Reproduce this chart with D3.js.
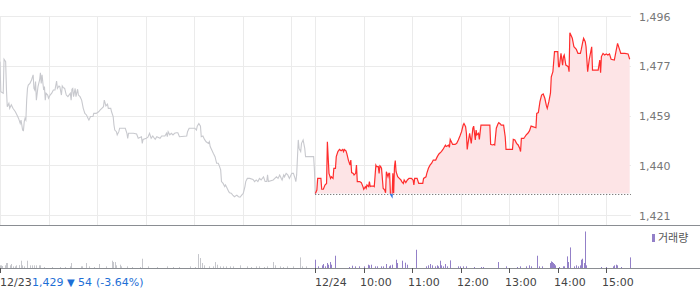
<!DOCTYPE html>
<html>
<head>
<meta charset="utf-8">
<script src="https://cdn.jsdelivr.net/npm/d3@7"></script>
<style>
body { margin:0; background:#fff; }
svg text { font-family:'DejaVu Sans', sans-serif; font-size:11px; }
</style>
</head>
<body>
<svg id="chart" width="700" height="289"></svg>
<script>

// minutes after 09:00, price  (12/23 session)
var day1 = [[0,1478.8],[1,1467.5],[4,1466.9],[5,1479.7],[7,1478.8],[8,1468.1],[9,1461.8],[11,1463.1],[12,1461.2],[14,1462.5],
	[16,1461.2],[19,1459.9],[21,1458.7],[23,1457.4],[25,1455.5],[26,1456.8],[28,1453.0],[29,1452.8],[30,1456.2],[31,1457.4],
	[32,1456.8],[33,1464.3],[34,1468.7],[35,1470.0],[37,1470.6],[39,1471.9],[41,1473.8],[42,1468.7],[43,1468.1],[44,1471.3],
	[45,1464.3],[47,1469.4],[49,1471.9],[50,1474.6],[51,1470.6],[52,1473.8],[54,1468.1],[55,1469.4],[56,1464.3],[57,1466.9],
	[59,1466.2],[60,1465.0],[62,1466.2],[64,1466.9],[66,1468.1],[68,1468.1],[70,1471.5],[71,1468.7],[73,1469.6],[74,1469.4],
	[76,1466.2],[77,1469.6],[78,1469.1],[80,1468.7],[82,1466.2],[84,1465.6],[87,1466.9],[88,1464.3],[89,1468.4],[90,1468.7],
	[91,1465.6],[93,1468.7],[94,1465.6],[96,1468.4],[97,1466.2],[99,1465.6],[101,1464.3],[103,1461.2],[105,1459.3],[107,1458.7],
	[109,1457.4],[110,1456.8],[112,1458.1],[115,1458.1],[116,1459.3],[119,1459.3],[122,1459.9],[124,1460.6],[126,1461.2],[128,1461.8],
	[129,1464.3],[131,1462.1],[133,1462.8],[134,1461.2],[137,1461.2],[138,1459.9],[140,1458.1],[141,1454.9],[142,1453.0],[144,1452.4],
	[145,1451.2],[147,1452.4],[148,1453.7],[152,1453.7],[155,1453.7],[157,1451.8],[158,1449.9],[159,1451.8],[165,1451.8],[169,1451.5],
	[171,1449.9],[175,1450.5],[176,1448.0],[177,1449.5],[181,1449.9],[183,1450.3],[185,1451.8],[187,1449.9],[189,1450.8],[190,1450.3],
	[192,1449.5],[194,1450.5],[198,1449.9],[200,1450.8],[204,1450.8],[206,1451.8],[207,1450.5],[208,1452.4],[210,1451.2],[212,1451.8],
	[214,1451.2],[216,1451.8],[218,1452.0],[220,1452.0],[222,1450.5],[231,1450.8],[232,1452.4],[234,1453.7],[241,1453.7],[243,1453.0],
	[244,1454.5],[246,1455.5],[248,1454.5],[249,1450.5],[251,1450.8],[253,1449.5],[255,1448.6],[258,1448.0],[259,1448.6],[260,1446.8],
	[262,1445.5],[264,1444.2],[266,1443.0],[268,1440.5],[270,1440.5],[271,1439.8],[273,1438.0],[274,1433.6],[276,1432.9],[278,1431.7],
	[279,1432.3],[281,1431.1],[283,1429.8],[284,1429.4],[286,1429.2],[288,1428.5],[290,1427.9],[293,1428.5],[295,1427.9],[297,1427.7],
	[299,1428.5],[301,1429.2],[303,1431.7],[304,1433.6],[306,1434.8],[309,1434.8],[313,1434.4],[315,1433.6],[317,1434.2],[319,1433.6],
	[321,1434.8],[323,1434.2],[326,1435.4],[328,1433.6],[330,1433.6],[331,1436.1],[332,1433.6],[338,1434.2],[340,1434.8],[342,1435.4],
	[344,1434.8],[346,1436.1],[348,1434.8],[349,1434.2],[351,1436.1],[352,1435.4],[354,1436.7],[356,1436.1],[358,1434.8],[361,1436.7],
	[363,1436.7],[365,1434.8],[366,1433.6],[367,1436.1],[369,1449.3],[370,1446.1],[372,1444.9],[373,1448.0],[375,1449.3],[377,1446.1],
	[378,1443.0],[381,1443.0],[388,1443.0],[389,1438.0],[390,1429.2]];

// minutes after 09:00, price  (12/24 session)
var day2 = [[0,1429.0],[2,1430.4],[3,1434.8],[7,1434.8],[8,1430.7],[10,1430.7],[12,1432.3],[14,1432.9],[15,1448.6],[17,1436.7],
	[19,1434.8],[20,1435.4],[22,1434.8],[23,1438.6],[25,1438.6],[26,1443.0],[28,1444.9],[30,1445.7],[32,1445.2],[34,1445.7],
	[35,1444.9],[36,1445.7],[38,1445.2],[39,1444.2],[41,1441.7],[43,1439.8],[44,1441.7],[45,1437.0],[47,1436.7],[48,1436.1],
	[50,1436.7],[51,1439.8],[52,1433.6],[55,1433.6],[57,1433.2],[59,1431.7],[60,1430.7],[62,1431.7],[63,1431.1],[64,1432.3],
	[66,1431.7],[67,1433.6],[68,1431.7],[69,1431.9],[72,1431.9],[73,1431.7],[75,1439.8],[76,1439.2],[78,1439.2],[79,1436.7],
	[80,1439.5],[81,1439.2],[82,1438.6],[84,1431.1],[86,1430.4],[87,1429.4],[88,1437.3],[90,1435.4],[91,1436.7],[92,1436.7],
	[93,1428.9],[95,1427.9],[96,1436.7],[97,1429.2],[98,1439.2],[99,1441.5],[100,1437.3],[102,1435.4],[104,1434.8],[106,1434.2],
	[107,1433.6],[109,1432.9],[110,1434.2],[112,1433.2],[114,1434.2],[116,1434.8],[119,1434.8],[121,1434.2],[122,1432.3],[123,1434.8],
	[126,1434.8],[128,1432.9],[133,1432.9],[134,1434.8],[137,1435.4],[138,1436.7],[140,1438.6],[142,1439.8],[144,1440.5],[146,1441.7],
	[149,1441.7],[151,1443.0],[153,1444.0],[156,1444.9],[158,1445.7],[161,1447.3],[162,1446.8],[165,1447.3],[166,1446.5],[167,1449.5],
	[170,1447.6],[173,1447.6],[175,1448.0],[177,1449.3],[179,1450.8],[181,1452.4],[183,1454.9],[184,1455.5],[186,1454.3],[187,1451.8],
	[188,1445.7],[189,1448.0],[191,1451.8],[193,1448.0],[194,1450.8],[195,1453.7],[196,1454.5],[198,1449.3],[199,1453.0],[200,1451.2],
	[202,1451.8],[203,1449.5],[205,1454.9],[216,1454.9],[217,1447.6],[219,1447.4],[221,1447.6],[222,1447.4],[224,1453.7],[226,1455.3],
	[227,1455.8],[229,1455.3],[230,1454.9],[233,1454.9],[235,1450.5],[236,1445.7],[244,1445.7],[245,1449.5],[247,1449.3],[249,1448.0],
	[251,1447.4],[253,1446.1],[254,1444.9],[255,1449.9],[258,1449.9],[259,1450.3],[261,1451.2],[263,1451.8],[265,1452.7],[267,1454.5],
	[269,1454.3],[273,1453.9],[274,1459.3],[276,1459.6],[278,1463.7],[280,1466.2],[282,1466.6],[284,1465.0],[286,1462.1],[287,1461.2],
	[289,1463.7],[291,1466.9],[292,1473.1],[294,1475.0],[296,1482.6],[300,1482.6],[301,1476.9],[302,1476.9],[304,1481.9],[306,1477.5],
	[307,1480.7],[308,1481.3],[310,1477.5],[313,1476.9],[314,1475.0],[315,1489.7],[318,1487.6],[320,1484.4],[323,1483.4],[325,1481.9],
	[328,1481.9],[329,1483.2],[331,1486.3],[332,1487.6],[334,1486.3],[335,1484.4],[337,1475.0],[339,1479.7],[342,1484.4],[343,1475.6],
	[350,1475.6],[352,1479.4],[353,1474.6],[354,1480.7],[356,1481.9],[358,1481.3],[360,1481.7],[362,1481.3],[364,1481.7],[366,1479.7],
	[370,1479.4],[372,1482.6],[374,1485.7],[376,1483.8],[378,1481.9],[383,1481.9],[387,1481.7],[389,1479.7]];

// volume (minute, amount)
var vol1 = [[0,8],[1,8],[2,6],[6,8],[8,15],[9,15],[12,8],[14,12],[16,5],[19,5],[20,8],[23,8],[24,8],[26,22],[27,8],[30,5],
	[33,22],[37,8],[39,8],[42,8],[44,8],[48,8],[49,8],[54,3],[64,3],[74,3],[80,3],[87,5],[88,15],[100,5],[102,5],[106,15],
	[110,5],[116,3],[122,12],[131,5],[138,22],[140,18],[142,18],[144,8],[148,10],[150,5],[157,5],[163,3],[173,3],[176,28],
	[183,5],[194,3],[206,5],[214,3],[222,3],[235,5],[241,3],[245,42],[247,20],[248,30],[250,15],[252,8],[258,5],[264,5],
	[266,18],[268,10],[272,5],[276,5],[280,5],[284,5],[288,5],[297,8],[305,5],[311,3],[317,5],[321,5],[326,3],[330,5],
	[338,18],[340,8],[346,5],[350,3],[355,5],[362,5],[371,32],[373,5],[379,5]];
var vol2 = [[0,25],[3,5],[8,8],[10,12],[12,5],[14,15],[16,10],[18,18],[20,10],[24,37],[42,3],[45,7],[49,5],[54,5],[60,5],
	[65,10],[67,8],[69,10],[74,5],[76,5],[81,5],[84,5],[87,12],[91,5],[93,8],[95,10],[100,25],[101,15],[107,22],[111,16],
	[113,10],[125,55],[137,5],[139,8],[142,12],[145,8],[148,5],[151,8],[152,5],[154,22],[156,8],[158,5],[161,12],[163,5],
	[167,23],[177,5],[179,5],[183,5],[187,5],[197,3],[205,3],[207,3],[226,18],[236,5],[249,3],[253,5],[261,5],[265,8],
	[267,5],[274,37],[277,5],[280,5],[290,8],[291,15],[292,20],[293,18],[294,15],[295,12],[296,8],[301,3],[306,5],[308,5],
	[311,5],[312,35],[313,18],[315,62],[320,5],[322,8],[325,5],[327,8],[329,25],[330,28],[332,15],[334,110],[335,8],[354,3],
	[360,3],[368,5],[370,8],[372,10],[373,8],[378,3],[389,32]];

var prevClose = 1429;
var yTicks = [1421, 1439.75, 1458.5, 1477.25, 1496];
var timeTicks = [0, 390, 450, 510, 570, 630, 690, 750];
var timeLabels = ['12/23', '12/24', '10:00', '11:00', '12:00', '13:00', '14:00', '15:00'];
var closeInfo = { price: '1,429', change: '54', pct: '(-3.64%)' };
var volLabel = '거래량';

//--------------------------------------------------

var svg = d3.select('#chart');
var sessionLen = 390;

var x = d3.scaleLinear().domain([0, sessionLen*2]).range([0, 630.5]);
var y = d3.scaleLinear().domain([1421, 1496]).range([215, 16]);
var yVol = d3.scaleLinear().domain([0, 110]).range([268, 231.5]);
var px = function(v){ return Math.round(v) + 0.5; };
var yBase = y(prevClose);

// grid
var grid = svg.append('g');
grid.selectAll('.hg')
	.data(yTicks)
	.enter()
	.append('line')
	.attr('x1', 0).attr('x2', 631)
	.attr('y1', function(d){ return px(y(d)) })
	.attr('y2', function(d){ return px(y(d)) })
	.attr('stroke', '#ebebeb');
var vgrid = d3.range(0, 390, 60).concat(d3.range(390, 780, 60));
grid.selectAll('.vg')
	.data(vgrid)
	.enter()
	.append('line')
	.attr('x1', function(d){ return px(x(d)) })
	.attr('x2', function(d){ return px(x(d)) })
	.attr('y1', 16).attr('y2', 225)
	.attr('stroke', '#ebebeb');

// y labels
svg.selectAll('.ylab')
	.data(yTicks)
	.enter()
	.append('text')
	.attr('x', 639)
	.attr('y', function(d){ return y(d) + 4.5 })
	.attr('fill', '#777')
	.text(function(d){ return d3.format(',.0f')(d) });

// clips
var defs = svg.append('defs');
defs.append('clipPath').attr('id', 'above')
	.append('rect').attr('x', 0).attr('y', 0).attr('width', 700).attr('height', yBase);
defs.append('clipPath').attr('id', 'below')
	.append('rect').attr('x', 0).attr('y', yBase).attr('width', 700).attr('height', 225 - yBase);

var t2 = function(d){ return x(d[0] + sessionLen) };
var area = d3.area().x(t2).y0(yBase).y1(function(d){ return y(d[1]) });
var line2 = d3.line().x(t2).y(function(d){ return y(d[1]) });
var line1 = d3.line().x(function(d){ return x(d[0]) }).y(function(d){ return y(d[1]) });

svg.append('path').datum(day2).attr('d', area).attr('fill', '#fde4e6').attr('clip-path', 'url(#above)');
svg.append('path').datum(day2).attr('d', area).attr('fill', '#e3ecfb').attr('clip-path', 'url(#below)');

svg.append('line')
	.attr('x1', x(sessionLen)).attr('x2', 631)
	.attr('y1', px(yBase)).attr('y2', px(yBase))
	.attr('stroke', '#555').attr('stroke-dasharray', '1,2');

svg.append('path').datum(day1).attr('d', line1)
	.attr('fill', 'none').attr('stroke', '#c8c9ce').attr('stroke-width', 1.1);

svg.append('path').datum(day2).attr('d', line2)
	.attr('fill', 'none').attr('stroke', '#ff2d2d').attr('stroke-width', 1.2).attr('clip-path', 'url(#above)');
svg.append('path').datum(day2).attr('d', line2)
	.attr('fill', 'none').attr('stroke', '#2f74e0').attr('stroke-width', 1.2).attr('clip-path', 'url(#below)');

// panel lines
svg.append('line').attr('x1', 0).attr('x2', 700).attr('y1', 225.5).attr('y2', 225.5).attr('stroke', '#8a8d92');
svg.append('line').attr('x1', 0).attr('x2', 700).attr('y1', 268.5).attr('y2', 268.5).attr('stroke', '#8a8d92');

// volume
svg.selectAll('.v1')
	.data(vol1)
	.enter()
	.append('rect')
	.attr('x', function(d){ return Math.round(x(d[0])) })
	.attr('width', 1)
	.attr('y', function(d){ return yVol(d[1]) })
	.attr('height', function(d){ return 268 - yVol(d[1]) })
	.attr('fill', '#c6c7cc');
svg.selectAll('.v2')
	.data(vol2)
	.enter()
	.append('rect')
	.attr('x', function(d){ return Math.round(x(d[0] + sessionLen)) })
	.attr('width', 1)
	.attr('y', function(d){ return yVol(d[1]) })
	.attr('height', function(d){ return 268 - yVol(d[1]) })
	.attr('fill', '#9380c8');

// legend
svg.append('rect').attr('x', 652).attr('y', 234).attr('width', 3).attr('height', 8).attr('fill', '#9380c8');
svg.append('text').attr('x', 658).attr('y', 242)
	.style('font-family', "'Noto Sans CJK KR', sans-serif").style('font-size', '11px')
	.attr('fill', '#555').text(volLabel);

// time axis
svg.selectAll('.tick')
	.data(timeTicks)
	.enter()
	.append('line')
	.attr('x1', function(d){ return px(x(d)) })
	.attr('x2', function(d){ return px(x(d)) })
	.attr('y1', 268).attr('y2', 273)
	.attr('stroke', '#555');
svg.selectAll('.tlab')
	.data(timeTicks)
	.enter()
	.append('text')
	.attr('x', function(d, i){ return i < 2 ? Math.round(x(d)) : Math.round(x(d)) - 4 })
	.attr('y', 286)
	.attr('fill', '#444')
	.text(function(d, i){ return timeLabels[i] });

// close info
var info = svg.append('text').attr('y', 286).attr('fill', '#1e6fd6');
info.append('tspan').attr('x', 32).text(closeInfo.price);
info.append('tspan').attr('x', 67).style('font-size', '10px').text('▼');
info.append('tspan').attr('x', 78).text(closeInfo.change);
info.append('tspan').attr('x', 96).text(closeInfo.pct);

</script>
</body>
</html>
